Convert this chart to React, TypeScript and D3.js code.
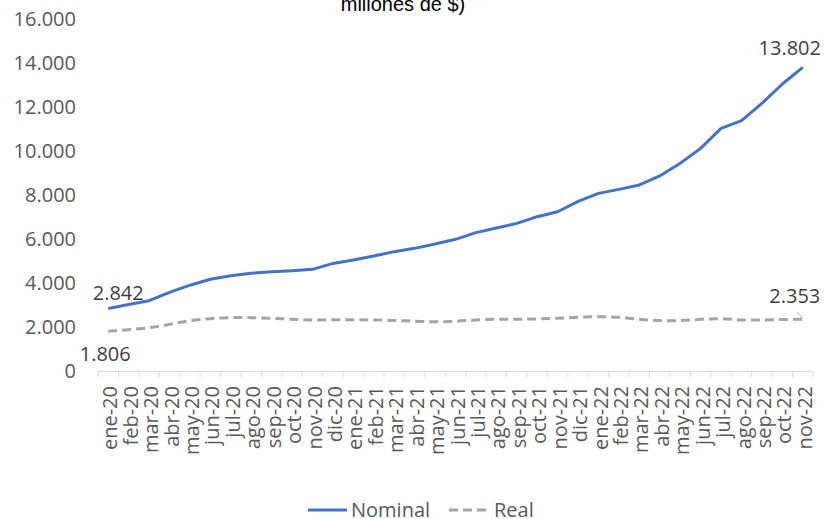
import React from "react";
import * as d3 from "d3";

const months = [
  "ene-20", "feb-20", "mar-20", "abr-20", "may-20", "jun-20", "jul-20", "ago-20", "sep-20", "oct-20", "nov-20", "dic-20",
  "ene-21", "feb-21", "mar-21", "abr-21", "may-21", "jun-21", "jul-21", "ago-21", "sep-21", "oct-21", "nov-21", "dic-21",
  "ene-22", "feb-22", "mar-22", "abr-22", "may-22", "jun-22", "jul-22", "ago-22", "sep-22", "oct-22", "nov-22",
];

const nominal = [
  2842, 3020, 3195, 3575, 3900, 4170, 4330, 4440, 4515, 4560, 4620, 4890,
  5050, 5225, 5425, 5575, 5770, 5985, 6290, 6500, 6710, 7015, 7240, 7710,
  8075, 8255, 8455, 8865, 9440, 10120, 11030, 11380, 12165, 13045, 13802,
];

const real = [
  1806, 1880, 1970, 2120, 2290, 2380, 2425, 2425, 2395, 2350, 2320, 2330,
  2330, 2320, 2300, 2260, 2240, 2260, 2320, 2350, 2350, 2370, 2400, 2440,
  2470, 2440, 2350, 2290, 2290, 2350, 2380, 2320, 2320, 2340, 2353,
];

const yTicks = [0, 2000, 4000, 6000, 8000, 10000, 12000, 14000, 16000];

const titleText = "millones de $)";
const seriesNames = ["Nominal", "Real"];

const W = 824;
const H = 519;
const FONT = "'Open Sans', 'Noto Sans', sans-serif";

const fmt = (v: number) => d3.format(",")(v).replace(/,/g, ".");

export default function App() {
  const x = d3.scaleBand<string>().domain(months).range([98, 813]);
  const y = d3.scaleLinear().domain([0, 16000]).range([371, 19]);
  const cx = (m: string) => (x(m) as number) + x.bandwidth() / 2;

  const lineNom = d3
    .line<number>()
    .x((_, i) => cx(months[i]))
    .y((d) => y(d));
  const lineReal = d3
    .line<number>()
    .x((_, i) => cx(months[i]))
    .y((d) => y(d))
    .curve(d3.curveCatmullRom.alpha(0.5));

  const boundaries = d3.range(months.length + 1).map((i) => 98 + i * x.bandwidth());
  const last = months.length - 1;

  return (
    <div style={{ position: "absolute", left: 0, top: 0 }}>
      <svg width={W} height={H} style={{ display: "block", background: "#fff" }}>
        <text
          x={403}
          y={11}
          textAnchor="middle"
          fontFamily="'Liberation Sans', Arial, sans-serif"
          fontSize={20}
          fill="#000"
        >
          {titleText}
        </text>

        {/* y axis labels */}
        {yTicks.map((t) => (
          <text
            key={t}
            x={76}
            y={y(t)}
            dy="0.35em"
            textAnchor="end"
            fontFamily={FONT}
            fontSize={20}
            fill="#595959"
          >
            {fmt(t)}
          </text>
        ))}

        {/* x axis */}
        <line x1={98} x2={813} y1={371.5} y2={371.5} stroke="#d9d9d9" strokeWidth={1} />
        {boundaries.map((b, i) => (
          <line key={i} x1={b} x2={b} y1={371.5} y2={377} stroke="#d9d9d9" strokeWidth={1} />
        ))}
        {months.map((m) => (
          <text
            key={m}
            transform={`translate(${cx(m) + 9},386) rotate(-90)`}
            textAnchor="end"
            fontFamily={FONT}
            fontSize={20}
            fill="#595959"
          >
            {m}
          </text>
        ))}

        {/* lines */}
        <path d={lineReal(real) || ""} fill="none" stroke="#a5a5a5" strokeWidth={3} strokeDasharray="9 5" />
        <path d={lineNom(nominal) || ""} fill="none" stroke="#4472c4" strokeWidth={3} strokeLinejoin="round" />

        {/* data labels */}
        <text x={cx(months[0]) + 10} y={y(nominal[0]) - 8} textAnchor="middle" fontFamily={FONT} fontSize={20} fill="#404040">
          {fmt(nominal[0])}
        </text>
        <text x={cx(months[0]) - 3} y={y(real[0]) + 30} textAnchor="middle" fontFamily={FONT} fontSize={20} fill="#404040">
          {fmt(real[0])}
        </text>
        <text x={cx(months[last]) - 13} y={y(nominal[last]) - 12} textAnchor="middle" fontFamily={FONT} fontSize={20} fill="#404040">
          {fmt(nominal[last])}
        </text>
        <text x={cx(months[last]) - 8} y={y(real[last]) - 16} textAnchor="middle" fontFamily={FONT} fontSize={20} fill="#404040">
          {fmt(real[last])}
        </text>
        <line
          x1={cx(months[last]) - 6}
          y1={y(real[last]) - 7}
          x2={cx(months[last])}
          y2={y(real[last]) - 1}
          stroke="#a6a6a6"
          strokeWidth={1}
        />

        {/* legend */}
        <line x1={308} x2={347} y1={510} y2={510} stroke="#4472c4" strokeWidth={3} />
        <text x={351} y={510} dy="0.33em" fontFamily={FONT} fontSize={20} fill="#595959">
          {seriesNames[0]}
        </text>
        <line x1={449} x2={486} y1={510} y2={510} stroke="#a5a5a5" strokeWidth={3} strokeDasharray="9 5" />
        <text x={494} y={510} dy="0.33em" fontFamily={FONT} fontSize={20} fill="#595959">
          {seriesNames[1]}
        </text>
      </svg>
    </div>
  );
}
